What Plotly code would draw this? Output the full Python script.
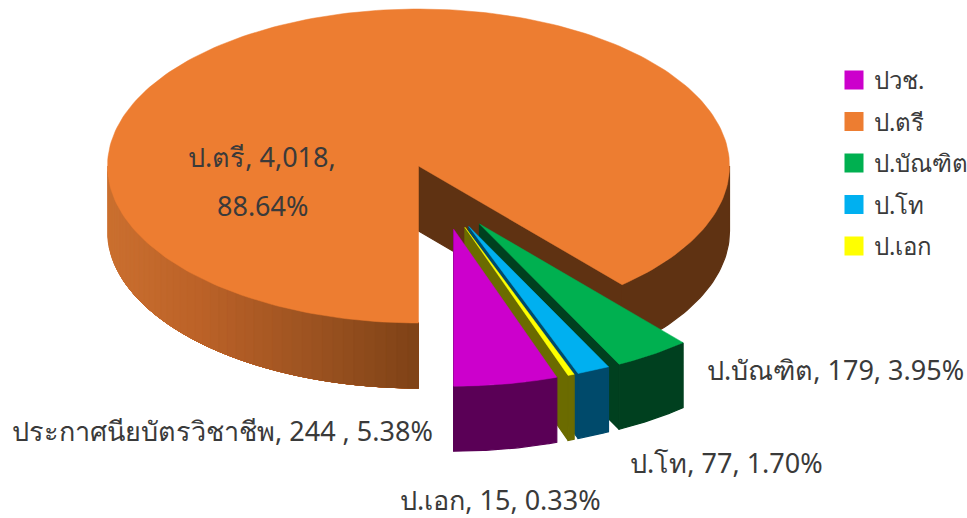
import numpy as np
import plotly.graph_objects as go

categories = ["ปวช.", "ป.ตรี", "ป.บัณฑิต", "ป.โท", "ป.เอก"]
label_names = ["ประกาศนียบัตรวิชาชีพ", "ป.ตรี", "ป.บัณฑิต", "ป.โท", "ป.เอก"]
counts = [244, 4018, 179, 77, 15]
percents = [5.38, 88.64, 3.95, 1.70, 0.33]

top_colors = ["#CC00CC", "#ED7D31", "#00B050", "#00B0F0", "#FFFF00"]
side_colors = ["#5A0056", "#5F3212", "#00401F", "#004A6B", "#6B6B00"]

W, H = 967, 518
CX, CY, RX, RY, DEPTH = 418.5, 166.0, 311.0, 157.0, 65.0
PULL = 0.418
FONT = "Noto Sans, Liberation Sans, DejaVu Sans, sans-serif"

# Clockwise sweep from the top of the pie, derived from the values.
total = sum(percents)
sweeps = [p / total * 360 for p in percents]
order = [1, 2, 3, 4, 0]
start = 180.0
spans = {}
for i in order:
    spans[i] = (start, start + sweeps[i])
    start += sweeps[i]


def arc(a0, a1, cx, cy, n=60):
    t = np.radians(np.linspace(a0, a1, n))
    return cx + RX * np.sin(t), cy - RY * np.cos(t)


fig = go.Figure()


def poly(x, y, color, lw=0.5):
    fig.add_trace(go.Scatter(x=list(x), y=list(y), mode="lines", fill="toself", fillcolor=color,
                             line=dict(color=color, width=lw), hoverinfo="skip", showlegend=False))


def side(a0, a1, cx, cy, color, lw=1.2):
    x, y = arc(a0, a1, cx, cy, 40)
    poly(np.r_[x, x[::-1], x[0]], np.r_[y, y[::-1] + DEPTH, y[0]], color, lw)


def wall(a, cx, cy, color):
    x, y = arc(a, a, cx, cy, 1)
    poly([cx, x[0], x[0], cx, cx], [cy, y[0], y[0] + DEPTH, cy + DEPTH, cy], color, 1.2)


def top(a0, a1, cx, cy, color):
    x, y = arc(a0, a1, cx, cy, 240)
    poly(np.r_[cx, x, cx], np.r_[cy, y, cy], color)


# Main slice: gradient stops along its front-left rim; strips overlap so no seams appear
grad_x = [107, 200, 300, 421]
grad_r = [203, 188, 160, 126]
grad_g = [112, 98, 85, 66]
grad_b = [48, 40, 34, 23]
a0, a1 = spans[1]
edges = np.linspace(270, 180, 46)
for e1, e2 in zip(edges[:-1], edges[1:]):
    xm = CX + RX * np.sin(np.radians((e1 + e2) / 2))
    c = "rgb(%d,%d,%d)" % (np.interp(xm, grad_x, grad_r), np.interp(xm, grad_x, grad_g), np.interp(xm, grad_x, grad_b))
    side(180, e1, CX, CY, c, 0.5)
end = a1 % 360
side(90, end, CX, CY, side_colors[1])
wall(end, CX, CY, side_colors[1])
top(a0, a1, CX, CY, top_colors[1])

# Pulled-out slices, back to front
for i in [2, 3, 4, 0]:
    s0, s1 = spans[i]
    s0 %= 360
    s1 = s0 + sweeps[i]
    mid = 180 - (s0 + s1) / 2
    direction = np.radians(0.51 * mid + 10.75)
    cx = CX + PULL * RX * np.sin(direction)
    cy = CY + PULL * RY * np.cos(direction)
    wall(s1, cx, cy, side_colors[i])
    side(s0, s1, cx, cy, side_colors[i])
    top(s0, s1, cx, cy, top_colors[i])

# Legend entries
for name, c in zip(categories, top_colors):
    fig.add_trace(go.Scatter(x=[None], y=[None], mode="markers", name=name, legendgroup=name,
                             marker=dict(symbol="square", size=16, color=c, line=dict(color=c, width=3))))


def label(text, x, y):
    fig.add_annotation(x=x, y=y, text=text, showarrow=False, xanchor="center", yanchor="middle",
                       font=dict(family=FONT, size=27, color="#3A3A3A"))


lab = [f"{n}, {c:,}, {p:.2f}%" for n, c, p in zip(label_names, counts, percents)]
label(f"{label_names[0]}, {counts[0]} , {percents[0]:.2f}%", 222, 430)
label(f"{label_names[1]}, {counts[1]:,},", 262, 156)
label(f"{percents[1]:.2f}%", 262, 205)
label(lab[2], 835, 369)
label(lab[3], 726, 462)
label(lab[4], 500, 499)

fig.update_layout(
    width=W, height=H, margin=dict(l=0, r=0, t=0, b=0, autoexpand=False), autosize=False,
    paper_bgcolor="white", plot_bgcolor="white",
    xaxis=dict(range=[0, W], visible=False, fixedrange=True),
    yaxis=dict(range=[H, 0], visible=False, fixedrange=True),
    showlegend=True,
    legend=dict(x=834 / W, y=1 - 58 / H, xanchor="left", yanchor="top", bgcolor="rgba(0,0,0,0)",
                font=dict(family=FONT, size=24, color="#3A3A3A"), tracegroupgap=7.3, traceorder="grouped"),
)
fig.write_html("out.html", post_script="document.body.style.margin='0';document.body.style.overflow='hidden';",
               config=dict(displayModeBar=False))
